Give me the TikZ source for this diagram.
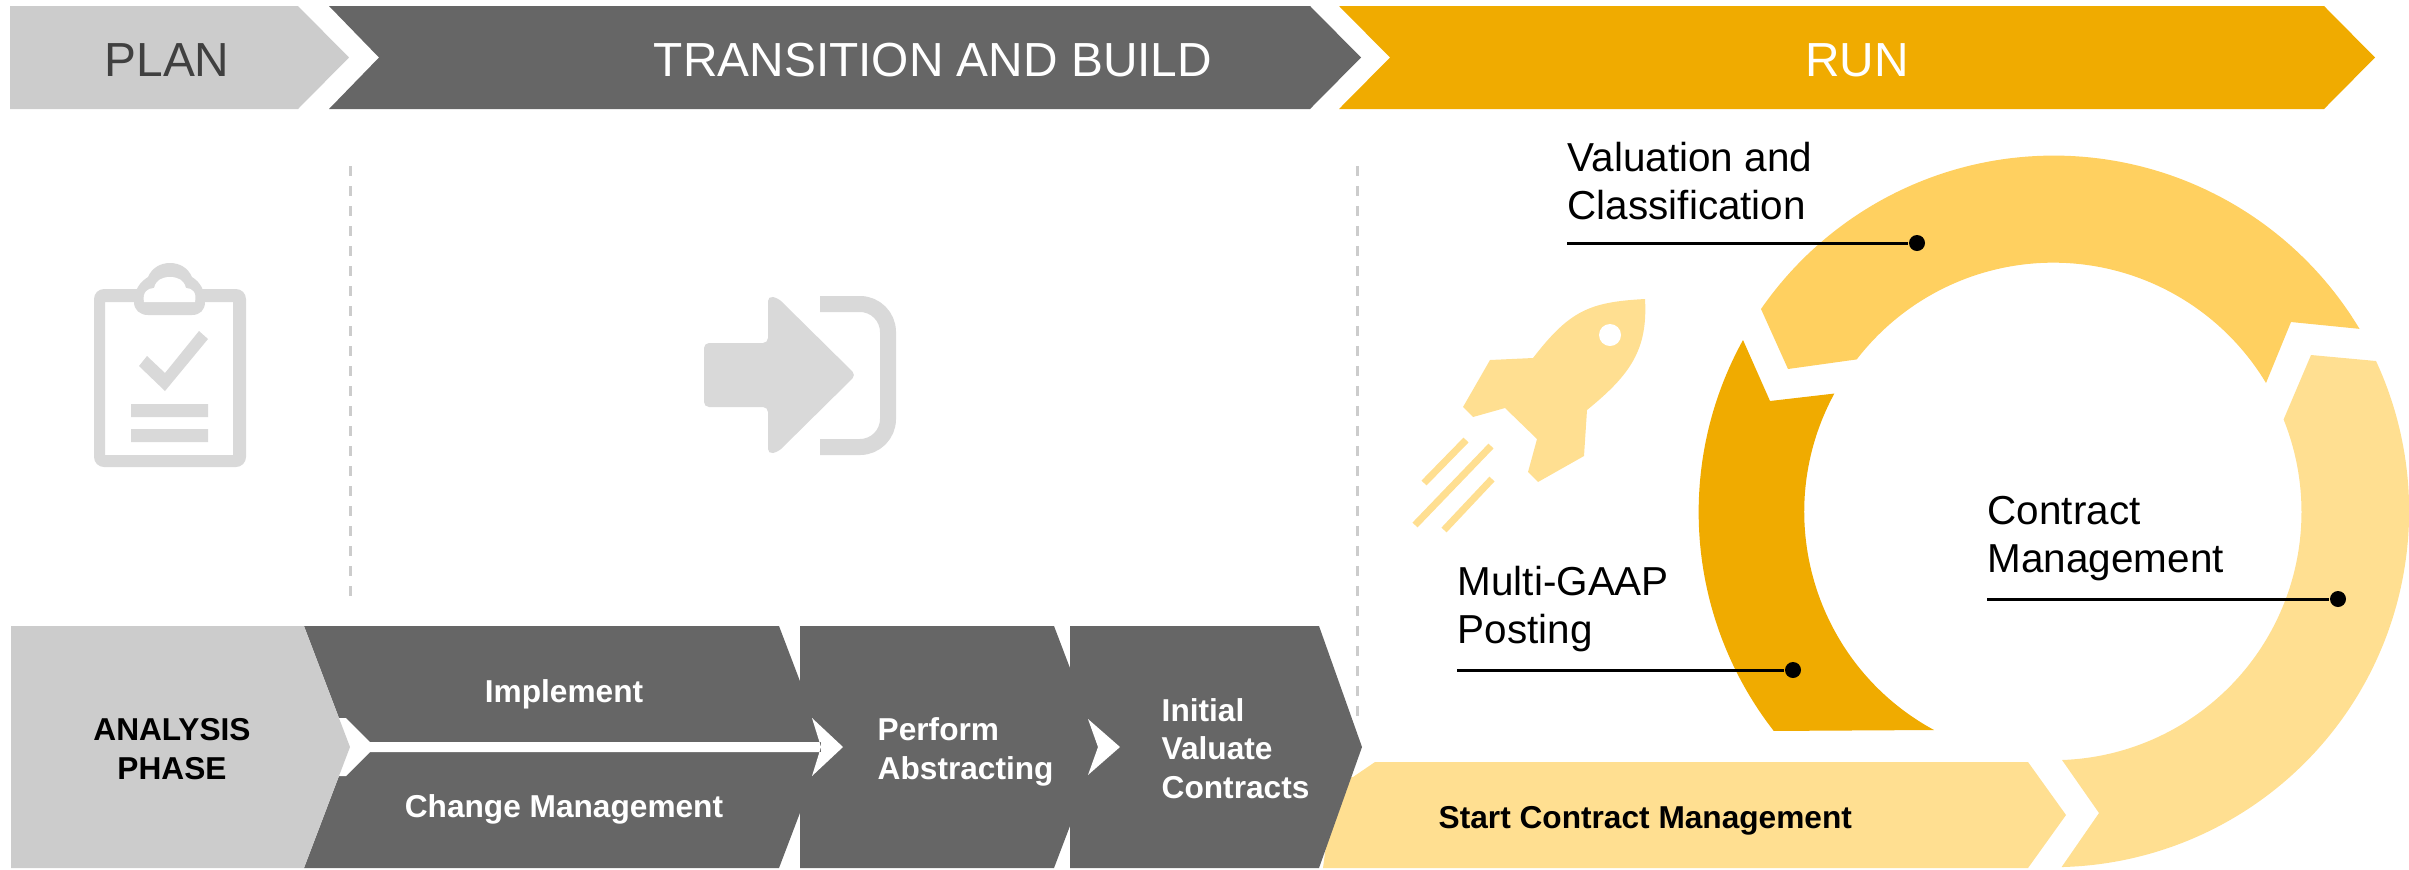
\documentclass[tikz,border=0pt]{standalone}
\usepackage{fontspec}
\setmainfont{Liberation Sans}
\definecolor{planc}{HTML}{CCCCCC}
\definecolor{buildc}{HTML}{666666}
\definecolor{runc}{HTML}{F0AB00}
\definecolor{valc}{HTML}{FFD060}
\definecolor{startc}{HTML}{FFDF91}
\definecolor{iconc}{HTML}{D9D9D9}
\tikzset{
  headtxt/.style={font=\fontsize{13.6}{16}\selectfont,anchor=base},
  steptxt/.style={font=\fontsize{9}{10.9}\selectfont\bfseries,align=left,text=white,anchor=base west},
  cyctxt/.style={font=\fontsize{11.5}{13.4}\selectfont,align=left,anchor=base west,inner sep=0pt},
  leader/.style={line width=.03cm},
  dotnode/.style={circle,fill=black,minimum size=.16cm,inner sep=0pt},
  guide/.style={planc,line width=.03cm,dash pattern=on .1cm off .1cm},
}
\begin{document}
\begin{tikzpicture}[x=.01cm,y=-.01cm,line join=round]
\def\ro{3.56cm} \def\ri{2.48cm}
\useasboundingbox (0,0) rectangle (2409,869);
% top row
\fill[planc] (10,6)--(298,6)--(349,57.5)--(298,109)--(10,109)--cycle;
\fill[buildc] (329,6)--(1310,6)--(1361,57.5)--(1310,109)--(329,109)--(379,57.5)--cycle;
\fill[runc] (1339,6)--(2324,6)--(2375,57.5)--(2324,109)--(1339,109)--(1390,57.5)--cycle;
\node[headtxt,text=black!75] (plan) at (167,76) {PLAN};
\node[headtxt,text=white] (build) at (933,76) {TRANSITION AND BUILD};
\node[headtxt,text=white] (run) at (1857,76) {RUN};
% dashed guides
\coordinate (g1a) at (350,166); \coordinate (g1b) at (350,600);
\coordinate (g2a) at (1357,166); \coordinate (g2b) at (1357,718);
\draw[guide] (g1a)--(g1b) (g2a)--(g2b);
% clipboard
\fill[iconc,even odd rule] (94,289) [rounded corners=.1cm] rectangle (246,467) [sharp corners] (105,302) rectangle (233,455);
\fill[iconc] (134,302) .. controls (134,290) and (140,282) .. (148,277) .. controls (152,268) and (160,263) .. (170,263)
  .. controls (180,263) and (188,268) .. (192,277) .. controls (200,282) and (205,290) .. (205,302)
  .. controls (205,310) and (200,315) .. (192,315) -- (148,315) .. controls (140,315) and (134,310) .. (134,302) -- cycle;
\fill[white] (144,302) .. controls (142,292) and (148,288) .. (154,288) .. controls (156,280) and (162,277) .. (170,277)
  .. controls (178,277) and (184,280) .. (186,288) .. controls (192,288) and (197,292) .. (195,302) -- cycle;
\fill[iconc] (139,366)--(165,391)--(208,339)--(199,331)--(165,373)--(147,356)--cycle;
\fill[iconc] (131,404) rectangle (208,417) (131,429) rectangle (208,442);
% enter arrow
\fill[iconc,rounded corners=.05cm] (704,343)--(768,343)--(768,296)--(778,298)--(856,375)--(778,452)--(768,454)--(768,407)--(704,407)--cycle;
\draw[iconc,line width=.16cm,rounded corners=.28cm] (820,304)--(888,304)--(888,447)--(820,447);
% rocket
\fill[startc] (1645,299) .. controls (1590,302) and (1570,310) .. (1533,358) -- (1490,360)--(1463,407)--(1473,417)--(1505,408)--(1537,439)
  --(1528,472)--(1538,482)--(1584,456)--(1587,410) .. controls (1630,375) and (1648,350) .. cycle;
\fill[white] (1610,335) circle[radius=.11cm];
\draw[startc,line width=.07cm] (1466,440)--(1424,483) (1491,446)--(1415,525) (1492,479)--(1444,530);
% ring
\fill[valc] (1761,309) arc[start angle=145.3,end angle=30.9,radius=\ro]--(2291,322)--(2266,383)
  arc[start angle=31,end angle=142.4,radius=\ri]--(1788,369)--cycle;
\fill[startc] (2376,361) arc[start angle=24.9,end angle=-88.6,radius=\ro]--(2099,813)--(2062,760)
  arc[start angle=-88,end angle=21.9,radius=\ri]--(2311,355)--cycle;
\fill[runc] (1743,340) arc[start angle=151.1,end angle=217.9,radius=\ro]--(1934,730)
  arc[start angle=241.5,end angle=151.5,radius=\ri]--(1770,401)--cycle;
% leaders
\node[cyctxt] (val) at (1567,219) {Valuation and\\Classification};
\node[cyctxt] (con) at (1987,572) {Contract\\Management};
\node[cyctxt] (gaap) at (1457,643) {Multi-GAAP\\Posting};
\foreach \nm/\xa/\xb/\yy in {val/1567/1917/243,con/1987/2338/599,gaap/1457/1793/670}{
  \coordinate (\nm a) at (\xa,\yy);
  \node[dotnode] (\nm dot) at (\xb,\yy) {};
  \draw[leader] (\nm a)--(\nm dot);
}
% bottom row
\fill[startc] (1375,762)--(2028,762)--(2066,815)--(2028,868)--(1323,868)--(1335,777)--(1353,777)--cycle;
\fill[buildc] (304,626)--(779,626)--(825,747)--(779,868)--(304,868)--(350,747)--cycle;
\fill[buildc] (800,626)--(1054,626)--(1100,747)--(1054,868)--(800,868)--cycle;
\fill[buildc] (1070,626)--(1319,626)--(1362,747)--(1319,868)--(1070,868)--cycle;
\fill[white] (338,718)--(346,718)--(370,742)--(370,752)--(346,776)--(338,776)--cycle;
\fill[planc] (11,626)--(304,626)--(350,747)--(304,868)--(11,868)--cycle;
\fill[white] (370,742) rectangle (821,752) (812,718)--(843,747)--(812,776)--(821,747)--cycle;
\fill[white] (1088,719)--(1120,747)--(1088,775)--(1098,747)--cycle;
\node[steptxt,anchor=base,text=black,align=center] (ana) at (172,779) {ANALYSIS\\PHASE};
\node[steptxt,anchor=base] (impl) at (564,702) {Implement};
\node[steptxt,anchor=base] (chg) at (564,817) {Change Management};
\node[steptxt,inner sep=0pt] (abs) at (877,779) {Perform\\Abstracting};
\node[steptxt,inner sep=0pt] (ini) at (1161,798) {Initial\\Valuate\\Contracts};
\node[steptxt,text=black,inner sep=0pt] (start) at (1438,828) {Start Contract Management};
\end{tikzpicture}
\end{document}
